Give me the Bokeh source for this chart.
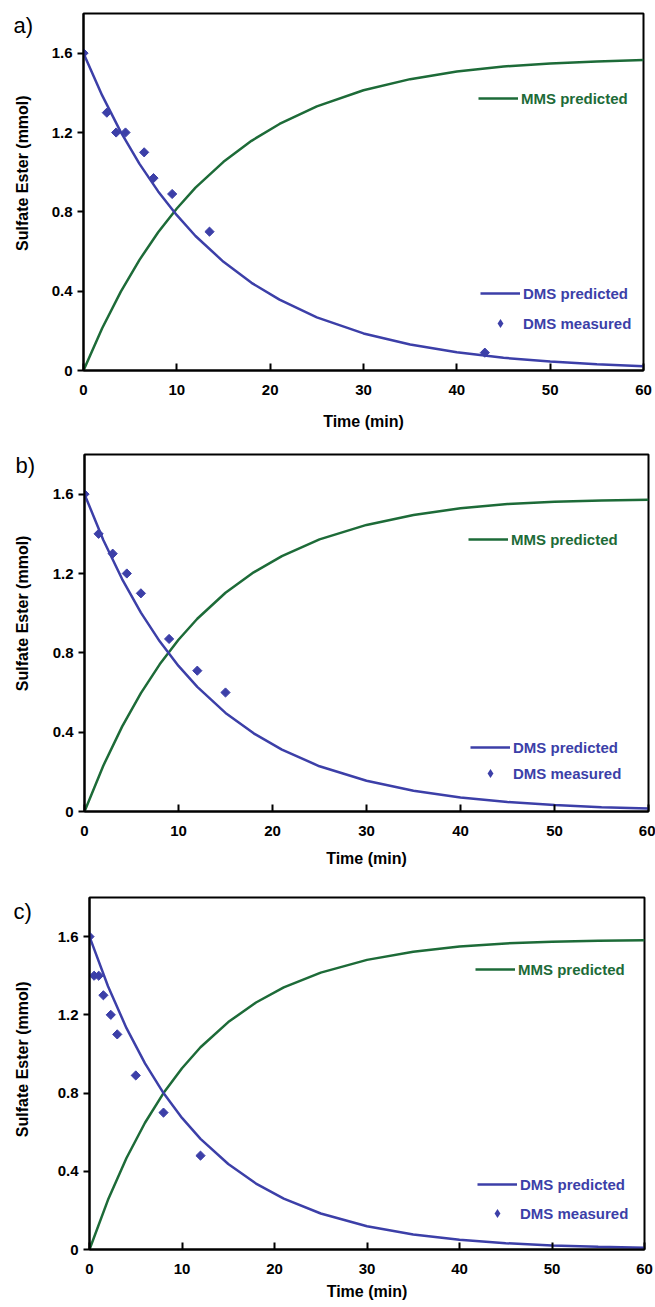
from bokeh.plotting import figure
from bokeh.models import (Range1d, FixedTicker, CustomJSTickFormatter, Legend,
                          LegendItem, Label)
from bokeh.layouts import column, row
from bokeh.embed import file_html
from bokeh.resources import INLINE

# ---------------- data ----------------
x_ticks = [0, 10, 20, 30, 40, 50, 60]
y_ticks = [0, 0.4, 0.8, 1.2, 1.6]

t_pred = [0, 2, 4, 6, 8, 10, 12, 15, 18, 21, 25, 30, 35, 40, 45, 50, 55, 60]

a_dms_pred = [1.600, 1.387, 1.202, 1.042, 0.903, 0.783, 0.678, 0.548, 0.442, 0.357,
              0.268, 0.187, 0.131, 0.092, 0.064, 0.045, 0.031, 0.022]
a_mms_pred = [0.000, 0.213, 0.398, 0.558, 0.697, 0.817, 0.922, 1.052, 1.158, 1.243,
              1.332, 1.413, 1.469, 1.508, 1.533, 1.548, 1.558, 1.565]
a_meas_t = [0, 2.5, 3.5, 4.5, 6.5, 7.5, 9.5, 13.5, 43]
a_meas_v = [1.60, 1.30, 1.20, 1.20, 1.10, 0.97, 0.89, 0.70, 0.09]

b_dms_pred = [1.600, 1.369, 1.172, 1.003, 0.858, 0.734, 0.628, 0.497, 0.394, 0.312,
              0.228, 0.155, 0.105, 0.071, 0.048, 0.033, 0.022, 0.015]
b_mms_pred = [0.000, 0.231, 0.428, 0.597, 0.742, 0.866, 0.972, 1.103, 1.206, 1.288,
              1.372, 1.445, 1.495, 1.529, 1.550, 1.562, 1.568, 1.572]
b_meas_t = [0, 1.5, 3, 4.5, 6, 9, 12, 15]
b_meas_v = [1.60, 1.40, 1.30, 1.20, 1.10, 0.87, 0.71, 0.60]

c_dms_pred = [1.600, 1.346, 1.132, 0.952, 0.800, 0.673, 0.566, 0.437, 0.337, 0.260,
              0.184, 0.119, 0.077, 0.050, 0.032, 0.021, 0.014, 0.009]
c_mms_pred = [0.000, 0.254, 0.468, 0.648, 0.800, 0.927, 1.034, 1.163, 1.263, 1.340,
              1.416, 1.481, 1.523, 1.550, 1.565, 1.574, 1.579, 1.582]
c_meas_t = [0, 0.5, 1, 1.5, 2.3, 3, 5, 8, 12]
c_meas_v = [1.60, 1.40, 1.40, 1.30, 1.20, 1.10, 0.89, 0.70, 0.48]

panel_tags = ["a)", "b)", "c)"]
x_title = "Time (min)"
y_title = "Sulfate Ester (mmol)"
mms_label = "MMS predicted"
dms_pred_label = "DMS predicted"
dms_meas_label = "DMS measured"

# ---------------- styling ----------------
GREEN = "#1d6b38"
BLUE = "#3c3fa8"
FONT = "Liberation Sans"
TAG_W = 42
PAGE_W = 655

styles = [
    dict(h=436, bl=41, br=12, bt=13, bb=66, xs=15,
         tag_x=13, tag_y=15, ytit_y=195,
         mms_loc=(395, 261), dms_loc=(397, 36), dms_sp=8),
    dict(h=436, bl=42, br=7, bt=18, bb=61, xs=11,
         tag_x=15, tag_y=13, ytit_y=194,
         mms_loc=(384, 261), dms_loc=(386, 27), dms_sp=4),
    dict(h=435, bl=47, br=11, bt=25, bb=58, xs=6,
         tag_x=13, tag_y=17, ytit_y=200,
         mms_loc=(386, 269), dms_loc=(388, 25), dms_sp=7),
]


def make_side(tag, st):
    # narrow strip left of each panel carrying the panel tag and the y title
    s = figure(width=TAG_W, height=st["h"], x_range=Range1d(0, TAG_W),
               y_range=Range1d(st["h"], 0), output_backend="svg",
               toolbar_location=None, x_axis_location=None, y_axis_location=None,
               min_border=0, background_fill_color="white", border_fill_color="white")
    s.grid.visible = False
    s.outline_line_color = None
    s.add_layout(Label(x=st["tag_x"], y=st["tag_y"], text=tag, text_font=FONT,
                       text_font_size="22px", text_color="black",
                       text_align="left", text_baseline="middle"))
    s.add_layout(Label(x=22, y=st["ytit_y"], text=y_title, angle=90, angle_units="deg",
                       text_font=FONT, text_font_size="16px", text_font_style="bold",
                       text_color="black", text_align="center", text_baseline="middle"))
    return s


def make_panel(dms_pred, mms_pred, meas_t, meas_v, st):
    p = figure(width=PAGE_W - TAG_W, height=st["h"], x_range=Range1d(0, 60),
               y_range=Range1d(0, 1.8), output_backend="svg", toolbar_location=None,
               min_border_left=st["bl"], min_border_right=st["br"],
               min_border_top=st["bt"], min_border_bottom=st["bb"],
               background_fill_color="white", border_fill_color="white")
    p.grid.visible = False
    p.outline_line_color = "black"
    p.outline_line_width = 2

    r_mms = p.line(t_pred, mms_pred, line_color=GREEN, line_width=2.5)
    r_dms = p.line(t_pred, dms_pred, line_color=BLUE, line_width=2.5)
    p.scatter(meas_t, meas_v, marker="square", angle=0.785398, size=6.5,
              fill_color=BLUE, line_color=BLUE)
    # legend key for the measured points: diamond swatch, drawn at zero size in the plot
    r_key = p.scatter(meas_t[:1], meas_v[:1], marker="diamond", size=0,
                      fill_color=BLUE, line_color=None)

    xa = p.xaxis[0]
    xa.ticker = FixedTicker(ticks=x_ticks)
    xa.major_tick_in = 7
    xa.major_tick_out = 0
    xa.minor_tick_line_color = None
    xa.axis_line_width = 2
    xa.major_tick_line_width = 2
    xa.major_label_standoff = 14
    xa.major_label_text_font = FONT
    xa.major_label_text_font_size = "15px"
    xa.major_label_text_font_style = "bold"
    xa.major_label_text_color = "black"
    xa.axis_label = x_title
    xa.axis_label_text_font = FONT
    xa.axis_label_text_font_size = "16px"
    xa.axis_label_text_font_style = "bold"
    xa.axis_label_text_color = "black"
    xa.axis_label_standoff = st["xs"]

    ya = p.yaxis[0]
    ya.ticker = FixedTicker(ticks=y_ticks)
    ya.formatter = CustomJSTickFormatter(code="return tick == 0 ? '0' : tick.toFixed(1);")
    ya.major_tick_in = 0
    ya.major_tick_out = 6
    ya.minor_tick_line_color = None
    ya.axis_line_width = 2
    ya.major_tick_line_width = 2
    ya.major_label_standoff = 5
    ya.major_label_text_font = FONT
    ya.major_label_text_font_size = "15px"
    ya.major_label_text_font_style = "bold"
    ya.major_label_text_color = "black"

    common = dict(border_line_color=None, background_fill_alpha=0, padding=0, margin=0,
                  glyph_width=40, glyph_height=22, label_height=22, label_standoff=3,
                  label_text_font=FONT, label_text_font_size="15px",
                  label_text_font_style="bold")
    leg_top = Legend(items=[LegendItem(label=mms_label, renderers=[r_mms])],
                     location=st["mms_loc"], label_text_color=GREEN, **common)
    leg_bot = Legend(items=[LegendItem(label=dms_pred_label, renderers=[r_dms]),
                            LegendItem(label=dms_meas_label, renderers=[r_key])],
                     location=st["dms_loc"], spacing=st["dms_sp"],
                     label_text_color=BLUE, **common)
    p.add_layout(leg_top)
    p.add_layout(leg_bot)
    return p


rows = [
    row(make_side(panel_tags[0], styles[0]),
        make_panel(a_dms_pred, a_mms_pred, a_meas_t, a_meas_v, styles[0]), spacing=0),
    row(make_side(panel_tags[1], styles[1]),
        make_panel(b_dms_pred, b_mms_pred, b_meas_t, b_meas_v, styles[1]), spacing=0),
    row(make_side(panel_tags[2], styles[2]),
        make_panel(c_dms_pred, c_mms_pred, c_meas_t, c_meas_v, styles[2]), spacing=0),
]

layout = column(*rows, spacing=0)
open("out.html", "w").write(file_html(layout, INLINE))
